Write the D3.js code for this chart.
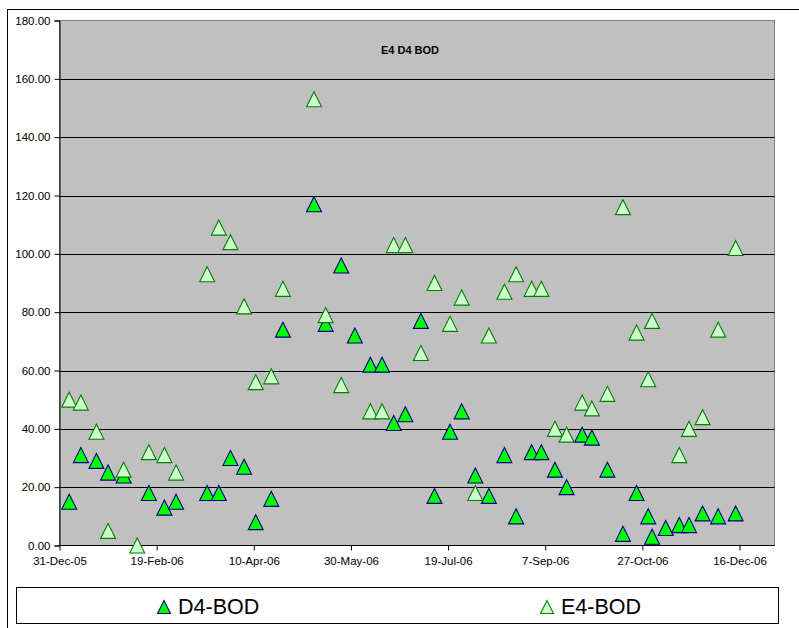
<!DOCTYPE html>
<html><head><meta charset="utf-8">
<script src="https://cdn.jsdelivr.net/npm/d3@7"></script>
<style>body{margin:0;background:#fff;} svg{display:block;font-family:Arial,"Liberation Sans",sans-serif;}</style>
</head><body><svg id="c" width="799" height="628"></svg>
<script>
const sampleDates = ["2006-01-05","2006-01-11","2006-01-19","2006-01-25","2006-02-02","2006-02-09","2006-02-15","2006-02-23","2006-03-01","2006-03-17","2006-03-23","2006-03-29","2006-04-05","2006-04-11","2006-04-19","2006-04-25","2006-05-11","2006-05-17","2006-05-25","2006-06-01","2006-06-09","2006-06-15","2006-06-21","2006-06-27","2006-07-05","2006-07-12","2006-07-20","2006-07-26","2006-08-02","2006-08-09","2006-08-17","2006-08-23","2006-08-31","2006-09-05","2006-09-12","2006-09-18","2006-09-26","2006-10-01","2006-10-09","2006-10-17","2006-10-24","2006-10-30","2006-11-01","2006-11-08","2006-11-15","2006-11-20","2006-11-27","2006-12-05","2006-12-14"];
const d4BOD = [15,31,29,25,24,null,18,13,15,18,18,30,27,8,16,74,117,76,96,72,62,62,42,45,77,17,39,46,24,17,31,10,32,32,26,20,38,37,26,4,18,10,3,6,7,7,11,10,11];
const e4BOD = [50,49,39,5,26,0,32,31,25,93,109,104,82,56,58,88,153,79,55,null,46,46,103,103,66,90,76,85,18,72,87,93,88,88,40,38,49,47,52,116,73,57,77,null,31,40,44,74,102];
const yTickValues = [0,20,40,60,80,100,120,140,160,180];
const xTickDates = ["2005-12-31","2006-02-19","2006-04-10","2006-05-30","2006-07-19","2006-09-07","2006-10-27","2006-12-16"];
const xTickLabels = ["31-Dec-05","19-Feb-06","10-Apr-06","30-May-06","19-Jul-06","7-Sep-06","27-Oct-06","16-Dec-06"];
const xDomain = ["2005-12-31","2007-01-03"];
const yDomain = [0,180];
const seriesNames = ["D4-BOD","E4-BOD"];
const chartTitle = "E4 D4 BOD";

const parse = d3.utcParse("%Y-%m-%d");
const svg = d3.select("#c");
const L = 59.5, T = 20.5, R = 774.5, B = 545.5;

// outer frame
svg.append("rect").attr("x",7.5).attr("y",9.5).attr("width",820).attr("height",640)
  .attr("fill","#fff").attr("stroke","#000").attr("stroke-width",1);

const x = d3.scaleUtc().domain(xDomain.map(parse)).range([L,R]);
const y = d3.scaleLinear().domain(yDomain).range([B,T]);

// plot area
svg.append("rect").attr("x",L).attr("y",T).attr("width",R-L).attr("height",B-T)
  .attr("fill","#C0C0C0").attr("stroke","#808080");

// gridlines
svg.append("g").selectAll("line").data(yTickValues.filter(v=>v>0 && v<180)).join("line")
  .attr("x1",L).attr("x2",R).attr("y1",d=>Math.round(y(d))+0.5).attr("y2",d=>Math.round(y(d))+0.5)
  .attr("stroke","#000").attr("stroke-width",1);

// y axis
const yAxis = d3.axisLeft(y).tickValues(yTickValues).tickFormat(d3.format(".2f")).tickSize(5).tickPadding(4);
const gy = svg.append("g").attr("transform",`translate(${L},0)`).call(yAxis);
gy.select(".domain").attr("stroke","#000");
gy.selectAll(".tick line").attr("stroke","#000");
gy.selectAll("text").attr("font-size","11.5px").attr("fill","#000").attr("font-family","Arial, 'Liberation Sans', sans-serif");

// x axis
const xAxis = d3.axisBottom(x).tickValues(xTickDates.map(parse))
  .tickFormat((d,i)=>xTickLabels[i]).tickSize(5).tickPadding(6);
const gx = svg.append("g").attr("transform",`translate(0,${B})`).call(xAxis);
gx.select(".domain").attr("stroke","#000").attr("d",`M${L},0H${R}`);
gx.selectAll(".tick line").attr("stroke","#000");
gx.selectAll("text").attr("font-size","11.5px").attr("fill","#000").attr("font-family","Arial, 'Liberation Sans', sans-serif");

// title
svg.append("text").attr("x",410).attr("y",54).attr("text-anchor","middle")
  .attr("font-size","11px").attr("font-weight","bold").text(chartTitle);

function tri(w,h){ return `M0,${-h/2}L${w/2},${h/2}L${-w/2},${h/2}Z`; }
const styles = [
  {fill:"#00FF00", stroke:"#000080"},
  {fill:"#CCFFCC", stroke:"#008000"}
];
const seriesData = [d4BOD, e4BOD];

// draw E4 first? In reference, E4 appears on top of D4 (e.g. 33rd day). Draw D4 first then E4.
seriesData.forEach((vals,si)=>{
  const pts = sampleDates.map((d,i)=>({date:parse(d), v:vals[i]})).filter(p=>p.v!==null);
  svg.append("g").selectAll("path").data(pts).join("path")
    .attr("d",tri(15,15))
    .attr("transform",p=>`translate(${x(p.date)},${y(p.v)})`)
    .attr("fill",styles[si].fill).attr("stroke",styles[si].stroke).attr("stroke-width",1.1);
});

// legend
svg.append("rect").attr("x",16.5).attr("y",587.5).attr("width",762).attr("height",36)
  .attr("fill","#fff").attr("stroke","#000");
const legX = [164, 547];
seriesNames.forEach((n,i)=>{
  svg.append("path").attr("d",tri(13,13)).attr("transform",`translate(${legX[i]},${607})`)
    .attr("fill",styles[i].fill).attr("stroke",styles[i].stroke).attr("stroke-width",1.1);
  svg.append("text").attr("x",legX[i]+14).attr("y",614).attr("font-size","21.5px").attr("fill","#000").text(n);
});
</script></body></html>
